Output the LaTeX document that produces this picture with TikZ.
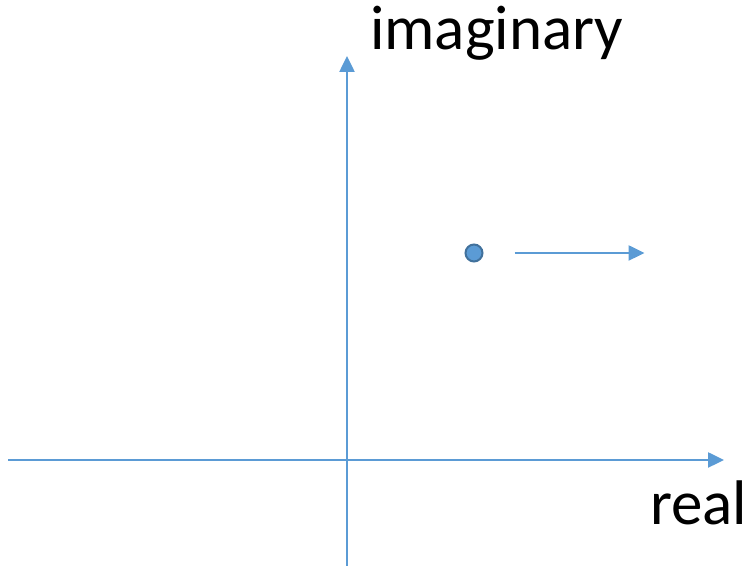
\documentclass[tikz,border=0pt]{standalone}
\usepackage{fontspec}
\setmainfont{Carlito}
\usepackage{xcolor}
\usetikzlibrary{arrows.meta, positioning}
\definecolor{axisblue}{HTML}{5B9BD5}
\definecolor{rimblue}{HTML}{41719C}
\tikzset{
    planediagram/.style={x=1pt, y=1pt, font=\fontsize{63}{70}\selectfont},
    axis/.style={draw=axisblue, line width=2.5pt, -{Triangle[length=16pt, width=15pt]}},
    pole/.style={circle, draw=rimblue, fill=axisblue, line width=2pt, minimum size=17pt, inner sep=0pt},
    axislabel/.style={anchor=base west, inner sep=0pt},
}

\begin{document}
\begin{tikzpicture}[planediagram]
    \useasboundingbox (0,0) rectangle (748,569);
    \coordinate (realstart) at (8,109);
    \coordinate (realend)   at (724,109);
    \coordinate (imagstart) at (347,3);
    \coordinate (imagend)   at (347,513);

    \node[pole]               (z)      at (474,316) {};
    \coordinate[right=31pt of z]  (movestart);
    \coordinate[right=161pt of z] (moveend);

    \node[axislabel] (imaglabel) at (370,519) {imaginary};
    \node[axislabel] (reallabel) at (650,44)  {real};

    \draw[axis] (realstart) -- (realend);
    \draw[axis] (imagstart) -- (imagend);
    \draw[axis] (movestart) -- (moveend);
\end{tikzpicture}
\end{document}
